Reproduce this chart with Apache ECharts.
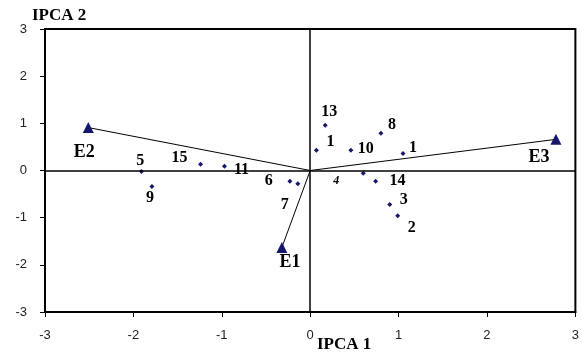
<!DOCTYPE html>
<html><head><meta charset="utf-8">
<script src="https://cdn.jsdelivr.net/npm/echarts@6/dist/echarts.min.js"></script>
<style>html,body{margin:0;padding:0;background:#fff}#c{width:582px;height:358px}</style>
</head><body><div id="c"></div>
<script>
// Data
const genotypeLabels = ['13','1','10','8','1','15','11','5','9','6','7','4','14','3','2'];
const genotypeX = [0.17, 0.07, 0.46, 0.80, 1.05, -1.24, -0.97, -1.91, -1.79, -0.23, -0.14, 0.60, 0.74, 0.90, 0.99];
const genotypeY = [0.96, 0.43, 0.43, 0.79, 0.36, 0.13, 0.09, -0.02, -0.34, -0.23, -0.28, -0.06, -0.23, -0.72, -0.96];
const envLabels = ['E1','E2','E3'];
const envX = [-0.32, -2.51, 2.78];
const envY = [-1.63, 0.91, 0.66];
const axisTicks = [-3,-2,-1,0,1,2,3];

// Label placement (style only, pixel offsets)
const genoOffsets = [[4,-13],[14,-8],[15,-1],[11,-8],[10,-6],[-21,-7],[17,4],[-1,-11],[-2,11],[-21,0],[-13,21],[-27,8],[22,0],[14,-5],[14,12]];
const envOffsets = [[8,15],[-4,25],[-17,18]];

const serif = '"Liberation Serif","DejaVu Serif",serif';
const navy = '#16166a';

const series = [];
envLabels.forEach((n,i)=>{
  series.push({type:'line', data:[[0,0],[envX[i],envY[i]]], symbol:'none', silent:true,
    lineStyle:{color:'#000', width:1}, z:2});
});
series.push({
  type:'scatter', symbol:'diamond', symbolSize:5, itemStyle:{color:navy, opacity:1}, z:4,
  data: genotypeLabels.map((l,i)=>({value:[genotypeX[i],genotypeY[i]],
    label:{show:true, formatter:l, position:'inside', offset:genoOffsets[i],
      fontFamily:serif, fontWeight:'bold', fontSize:l==='4'?12:16, color:'#000',
      fontStyle: l==='4' ? 'italic':'normal'}}))
});
series.push({
  type:'scatter', symbol:'triangle', symbolSize:11, itemStyle:{color:navy, opacity:1}, z:5,
  data: envLabels.map((l,i)=>({value:[envX[i],envY[i]],
    label:{show:true, formatter:l, position:'inside', offset:envOffsets[i],
      fontFamily:serif, fontWeight:'bold', fontSize:18, color:'#000'}}))
});
series.push({
  type:'line', data:[], markLine:{silent:true, symbol:'none', label:{show:false},
    lineStyle:{color:'#000', width:1.5, type:'solid'},
    data:[{xAxis:0},{yAxis:0}]}
});

const axisCommon = {
  type:'value', min:axisTicks[0], max:axisTicks[axisTicks.length-1], interval:1,
  splitLine:{show:false},
  axisLine:{show:true, onZero:false, lineStyle:{color:'#000', width:2}},
  axisTick:{show:true, inside:false, length:5, lineStyle:{color:'#000'}},
  axisLabel:{color:'#222', fontFamily:'"Liberation Sans",Arial,sans-serif', fontSize:13}
};

const chart = echarts.init(document.getElementById('c'));
chart.setOption({
  animation:false,
  backgroundColor:'#fff',
  grid:{left:45, top:29, right:5, bottom:46, show:true, borderColor:'#000', borderWidth:2},
  xAxis:Object.assign({}, axisCommon, {axisLabel:Object.assign({}, axisCommon.axisLabel, {margin:17})}),
  yAxis:Object.assign({}, axisCommon, {axisLabel:Object.assign({}, axisCommon.axisLabel, {margin:18})}),
  graphic:[
    {type:'text', left:32, top:7, style:{text:'IPCA 2', font:'bold 17px '+serif, fill:'#000'}},
    {type:'text', left:317, top:336, style:{text:'IPCA 1', font:'bold 17px '+serif, fill:'#000'}}
  ],
  series: series
});
</script></body></html>
